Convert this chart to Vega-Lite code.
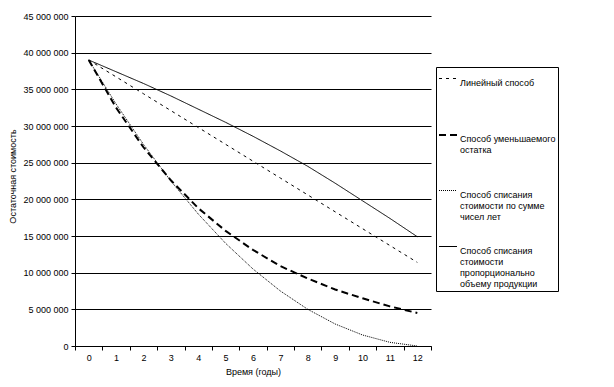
{
  "$schema": "https://vega.github.io/schema/vega-lite/v6.json",
  "width": 356,
  "height": 330,
  "autosize": {"type": "none"},
  "padding": {"left": 75, "top": 16, "right": 183, "bottom": 41},
  "background": "white",
  "config": {
    "font": "Liberation Sans",
    "view": {"stroke": null},
    "axis": {"labelFontSize": 9, "labelColor": "black", "titleFontSize": 9, "titleFontWeight": "normal", "titleColor": "black", "domainColor": "black", "tickColor": "black", "gridColor": "black", "tickSize": 4}
  },
  "data": {
    "values": [
      {"t": 0, "method": "Линейный способ", "value": 39000000},
      {"t": 1, "method": "Линейный способ", "value": 36700000},
      {"t": 2, "method": "Линейный способ", "value": 34400000},
      {"t": 3, "method": "Линейный способ", "value": 32100000},
      {"t": 4, "method": "Линейный способ", "value": 29800000},
      {"t": 5, "method": "Линейный способ", "value": 27500000},
      {"t": 6, "method": "Линейный способ", "value": 25200000},
      {"t": 7, "method": "Линейный способ", "value": 22900000},
      {"t": 8, "method": "Линейный способ", "value": 20600000},
      {"t": 9, "method": "Линейный способ", "value": 18300000},
      {"t": 10, "method": "Линейный способ", "value": 16000000},
      {"t": 11, "method": "Линейный способ", "value": 13700000},
      {"t": 12, "method": "Линейный способ", "value": 11400000},
      {"t": 0, "method": "Способ уменьшаемого остатка", "value": 39000000},
      {"t": 1, "method": "Способ уменьшаемого остатка", "value": 32500000},
      {"t": 2, "method": "Способ уменьшаемого остатка", "value": 27100000},
      {"t": 3, "method": "Способ уменьшаемого остатка", "value": 22600000},
      {"t": 4, "method": "Способ уменьшаемого остатка", "value": 18800000},
      {"t": 5, "method": "Способ уменьшаемого остатка", "value": 15700000},
      {"t": 6, "method": "Способ уменьшаемого остатка", "value": 13100000},
      {"t": 7, "method": "Способ уменьшаемого остатка", "value": 10900000},
      {"t": 8, "method": "Способ уменьшаемого остатка", "value": 9200000},
      {"t": 9, "method": "Способ уменьшаемого остатка", "value": 7700000},
      {"t": 10, "method": "Способ уменьшаемого остатка", "value": 6500000},
      {"t": 11, "method": "Способ уменьшаемого остатка", "value": 5400000},
      {"t": 12, "method": "Способ уменьшаемого остатка", "value": 4500000},
      {"t": 0, "method": "Способ списания стоимости по сумме чисел лет", "value": 39000000},
      {"t": 1, "method": "Способ списания стоимости по сумме чисел лет", "value": 33000000},
      {"t": 2, "method": "Способ списания стоимости по сумме чисел лет", "value": 27500000},
      {"t": 3, "method": "Способ списания стоимости по сумме чисел лет", "value": 22500000},
      {"t": 4, "method": "Способ списания стоимости по сумме чисел лет", "value": 18000000},
      {"t": 5, "method": "Способ списания стоимости по сумме чисел лет", "value": 14000000},
      {"t": 6, "method": "Способ списания стоимости по сумме чисел лет", "value": 10500000},
      {"t": 7, "method": "Способ списания стоимости по сумме чисел лет", "value": 7500000},
      {"t": 8, "method": "Способ списания стоимости по сумме чисел лет", "value": 5000000},
      {"t": 9, "method": "Способ списания стоимости по сумме чисел лет", "value": 3000000},
      {"t": 10, "method": "Способ списания стоимости по сумме чисел лет", "value": 1500000},
      {"t": 11, "method": "Способ списания стоимости по сумме чисел лет", "value": 500000},
      {"t": 12, "method": "Способ списания стоимости по сумме чисел лет", "value": 0},
      {"t": 0, "method": "Способ списания стоимости пропорционально объему продукции", "value": 39000000},
      {"t": 1, "method": "Способ списания стоимости пропорционально объему продукции", "value": 37400000},
      {"t": 2, "method": "Способ списания стоимости пропорционально объему продукции", "value": 35800000},
      {"t": 3, "method": "Способ списания стоимости пропорционально объему продукции", "value": 34100000},
      {"t": 4, "method": "Способ списания стоимости пропорционально объему продукции", "value": 32300000},
      {"t": 5, "method": "Способ списания стоимости пропорционально объему продукции", "value": 30500000},
      {"t": 6, "method": "Способ списания стоимости пропорционально объему продукции", "value": 28600000},
      {"t": 7, "method": "Способ списания стоимости пропорционально объему продукции", "value": 26600000},
      {"t": 8, "method": "Способ списания стоимости пропорционально объему продукции", "value": 24500000},
      {"t": 9, "method": "Способ списания стоимости пропорционально объему продукции", "value": 22200000},
      {"t": 10, "method": "Способ списания стоимости пропорционально объему продукции", "value": 19800000},
      {"t": 11, "method": "Способ списания стоимости пропорционально объему продукции", "value": 17400000},
      {"t": 12, "method": "Способ списания стоимости пропорционально объему продукции", "value": 14900000}
    ]
  },
  "mark": {"type": "line", "stroke": "black"},
  "encoding": {
    "x": {
      "field": "t", "type": "ordinal",
      "scale": {"paddingInner": 0, "paddingOuter": 0},
      "axis": {"title": "Время (годы)", "labelAngle": 0, "tickBand": "extent", "grid": false, "labelPadding": 3, "titlePadding": 5}
    },
    "y": {
      "field": "value", "type": "quantitative",
      "scale": {"domain": [0, 45000000], "nice": false, "zero": true},
      "axis": {
        "title": "Остаточная стоимость",
        "values": [0, 5000000, 10000000, 15000000, 20000000, 25000000, 30000000, 35000000, 40000000, 45000000],
        "labelExpr": "replace(format(datum.value, ',d'), /,/g, ' ')",
        "grid": true, "labelPadding": 3, "titleX": -58, "titleY": 160
      }
    },
    "strokeDash": {
      "field": "method", "type": "nominal",
      "scale": {
        "domain": ["Линейный способ", "Способ уменьшаемого остатка", "Способ списания стоимости по сумме чисел лет", "Способ списания стоимости пропорционально объему продукции"],
        "range": [[3, 4], [7, 4], [1, 1], [1, 0]]
      },
      "legend": {
        "title": null, "orient": "none", "legendX": 361, "legendY": 51,
        "strokeColor": "black", "padding": 2, "gridAlign": "all", "rowPadding": 4,
        "labelBaseline": "top", "labelFontSize": 9, "labelColor": "black", "labelLimit": 200, "labelOffset": 2,
        "symbolType": "stroke", "symbolSize": 324, "symbolStrokeColor": "black",
        "labelExpr": "datum.label == 'Способ уменьшаемого остатка' ? ['Способ уменьшаемого', 'остатка'] : datum.label == 'Способ списания стоимости по сумме чисел лет' ? ['Способ списания', 'стоимости по сумме', 'чисел лет'] : datum.label == 'Способ списания стоимости пропорционально объему продукции' ? ['Способ списания', 'стоимости', 'пропорционально', 'объему продукции'] : datum.label"
      }
    },
    "strokeWidth": {
      "field": "method", "type": "nominal",
      "scale": {
        "type": "ordinal",
        "domain": ["Линейный способ", "Способ уменьшаемого остатка", "Способ списания стоимости по сумме чисел лет", "Способ списания стоимости пропорционально объему продукции"],
        "range": [1, 2, 1, 1]
      },
      "legend": null
    }
  }
}
